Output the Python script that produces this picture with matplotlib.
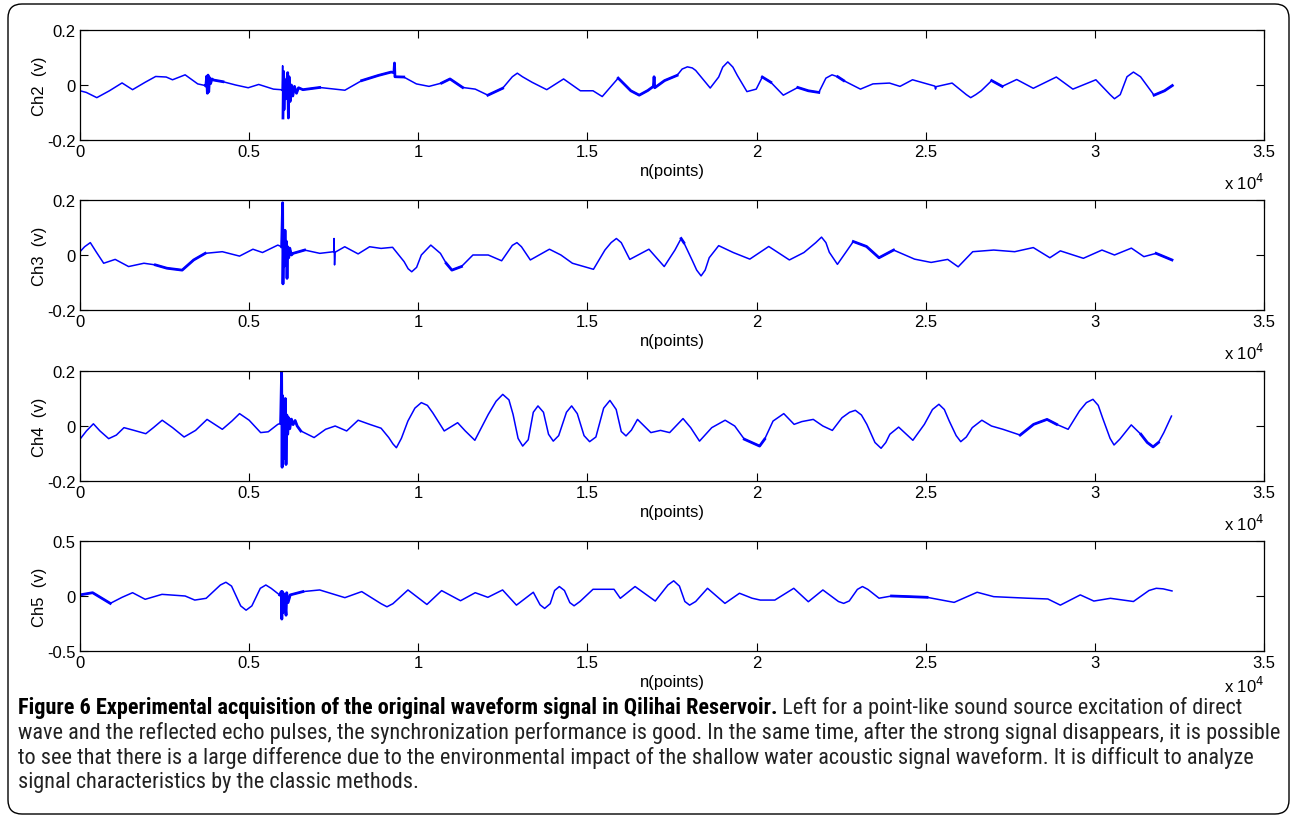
import matplotlib
matplotlib.use("Agg")
import matplotlib.pyplot as plt
from matplotlib import font_manager
from matplotlib.patches import FancyBboxPatch
from matplotlib.transforms import IdentityTransform

plt.rcParams['font.family'] = ['Liberation Sans', 'DejaVu Sans']

# ---- waveform knots (n in points, value in volts) ----
ch2_n = [0, 186, 497, 870, 1243, 1554, 1927, 2237, 2548, 2735, 3108, 3480, 3704,
         3720, 3745, 3765, 3785, 3805, 3830, 3860, 3900, 3950, 4226, 4600, 4972,
         5283, 5718, 5940, 5975, 5990, 6000, 6015, 6030, 6050, 6080, 6110, 6140,
         6160, 6180, 6210, 6250, 6290, 6340, 6400, 6460, 6588, 7085, 7830, 8328,
         8825, 9198, 9280, 9297, 9310, 9570, 9944, 10317, 10690, 10938, 11311,
         11684, 12057, 12492, 12927, 13362, 13797, 14295, 14792, 15165, 15438,
         15910, 16283, 16531, 16785, 16950, 16970, 16990, 17280, 17650, 17955,
         18200, 18630, 18880, 19150, 19430, 19715, 19990, 20170, 20420, 20790,
         21220, 21530, 21840, 22230, 22575, 23070, 23440, 23930, 24240, 24610,
         25040, 25270, 25290, 25310, 25780, 26330, 26640, 26950, 27260, 27690,
         28180, 28860, 29350, 30030, 30580, 31140, 31750, 32060, 32290]
ch2_v = [-0.021, -0.027, -0.046, -0.021, 0.0075, -0.017, 0.010, 0.031, 0.029, 0.019,
         0.037, 0.004, -0.002, -0.004, 0.032, -0.030, 0.036, -0.025, 0.027, 0.005,
         0.022, 0.018, 0.012, 0.000, -0.010, 0.002, -0.015, -0.017, -0.020, 0.070,
         -0.120, 0.050, -0.090, 0.020, -0.050, 0.010, 0.045, -0.120, 0.030, -0.060,
         0.000, -0.040, -0.005, -0.030, -0.010, -0.017, -0.009, -0.019, 0.016,
         0.035, 0.047, 0.045, 0.080, 0.030, 0.029, 0.004, -0.005, 0.007, 0.022,
         -0.009, -0.015, -0.037, -0.012, 0.043, 0.010, -0.017, 0.022, -0.021,
         -0.021, -0.042, 0.025, -0.021, -0.037, -0.020, -0.005, 0.030, -0.010,
         0.016, 0.035, 0.066, 0.053, -0.011, 0.029, 0.084, 0.035, -0.024, -0.015,
         0.029, 0.010, -0.037, -0.009, -0.021, -0.027, 0.037, 0.016, -0.015,
         0.004, 0.007, -0.005, 0.019, 0.004, -0.004, -0.015, -0.006, 0.007,
         -0.046, -0.021, 0.016, -0.005, 0.020, -0.012, 0.029, -0.015, 0.019,
         -0.050, 0.047, -0.037, -0.021, -0.002]
# extra shoulder points around the rounder swings
ch2_extra_n = [12780, 13080, 19000, 19300, 22050, 22400, 26200, 26480, 30450, 30750,
               30950, 31350, 17800, 18100]
ch2_extra_v = [0.030, 0.030, 0.065, 0.065, 0.025, 0.030, -0.035, -0.035, -0.035,
               -0.035, 0.030, 0.030, 0.058, 0.062]

ch3_n = [0, 136, 305, 475, 700, 1040, 1436, 1890, 2228, 2567, 3020, 3360, 3700,
         4207, 4716, 5112, 5395, 5847, 5960, 5990, 6000, 6020, 6040, 6060, 6080,
         6100, 6120, 6140, 6170, 6200, 6250, 6300, 6640, 7090, 7500, 7510, 7525,
         7540, 7826, 8222, 8562, 8900, 9240, 9580, 9806, 10090, 10370, 10654,
         10824, 10993, 11276, 11615, 12068, 12464, 12916, 13312, 13877, 14216,
         14556, 15178, 15517, 15856, 16252, 16818, 17270, 17587, 17770, 17850,
         18100, 18360, 18600, 18880, 19310, 19800, 20360, 20970, 21400, 21920,
         22150, 22390, 22860, 23250, 23620, 24050, 24670, 25160, 25650, 25960,
         26390, 27010, 27630, 28180, 28670, 28980, 29660, 30210, 30580, 31080,
         31450, 31810, 32280]
ch3_v = [0.012, 0.030, 0.045, 0.012, -0.030, -0.016, -0.042, -0.030, -0.036,
         -0.048, -0.055, -0.018, 0.006, 0.012, -0.004, 0.021, 0.009, 0.036, 0.030,
         0.190, -0.105, 0.070, -0.040, 0.090, -0.020, 0.050, -0.085, 0.030,
         -0.010, 0.025, 0.000, 0.006, 0.018, 0.006, 0.012, 0.060, -0.036, 0.010,
         0.030, 0.004, 0.030, 0.024, 0.028, -0.024, -0.061, 0.000, 0.036, 0.006,
         -0.030, -0.055, -0.042, 0.000, 0.000, -0.021, 0.045, -0.018, 0.021,
         0.000, -0.030, -0.052, 0.018, 0.060, -0.016, 0.021, -0.042, 0.018,
         0.060, 0.045, -0.020, -0.076, -0.010, 0.034, 0.009, -0.015, 0.031,
         -0.018, 0.009, 0.065, 0.010, -0.034, 0.049, 0.031, -0.010, 0.018,
         -0.015, -0.027, -0.016, -0.043, 0.012, 0.018, 0.012, 0.027, -0.010,
         0.015, -0.012, 0.018, 0.000, 0.025, -0.006, 0.006, -0.018]
ch3_extra_n = [9700, 9950, 15700, 16000, 18230, 18480, 21750, 22050, 12780, 13050]
ch3_extra_v = [-0.050, -0.045, 0.045, 0.045, -0.055, -0.055, 0.045, 0.045, 0.035, 0.030]

ch4_n = [0, 190, 396, 590, 848, 1075, 1300, 1600, 1945, 2170, 2430, 2737, 3077,
         3416, 3756, 3980, 4207, 4490, 4716, 5000, 5340, 5565, 5847, 5930, 5960,
         5975, 5990, 6005, 6025, 6045, 6070, 6090, 6115, 6140, 6170, 6200, 6250,
         6300, 6360, 6420, 6526, 6920, 7260, 7543, 7883, 8222, 8562, 8900, 9127,
         9353, 9693, 10090, 10428, 10767, 11163, 11389, 11672, 12068, 12497,
         12802, 13086, 13538, 13990, 14533, 15065, 15665, 16140, 16480, 16875,
         17160, 17430, 17826, 18052, 18313, 18675, 19071, 19354, 19638, 20090,
         20238, 20487, 20804, 21110, 21336, 21676, 21960, 22240, 22525, 22920,
         23260, 23680, 23940, 24200, 24620, 24960, 25390, 25696, 26036, 26376,
         26660, 26943, 27282, 27792, 28190, 28586, 28870, 29210, 29547, 29944,
         30227, 30567, 30737, 31076, 31360, 31722, 32039, 32265]
ch4_v = [-0.048, -0.018, 0.008, -0.018, -0.046, -0.033, -0.006, -0.016, -0.028,
         -0.006, 0.021, -0.006, -0.040, -0.016, 0.024, 0.006, -0.012, 0.018,
         0.045, 0.021, -0.024, -0.021, 0.006, 0.010, 0.200, -0.150, 0.110,
         -0.120, 0.090, -0.060, 0.100, -0.140, 0.040, -0.030, 0.030, -0.010,
         0.025, 0.005, 0.020, 0.000, -0.018, -0.042, -0.012, 0.000, -0.018,
         0.021, 0.006, -0.008, -0.042, -0.079, 0.018, 0.085, 0.048, -0.018,
         0.012, -0.018, -0.052, 0.042, 0.115, 0.042, -0.073, 0.073, -0.055,
         0.073, -0.057, 0.093, -0.036, 0.024, -0.024, -0.016, -0.024, 0.027,
         -0.006, -0.055, -0.006, 0.021, 0.000, -0.048, -0.073, -0.048, 0.018,
         0.045, 0.006, 0.016, 0.024, 0.000, -0.016, 0.030, 0.057, 0.006, -0.081,
         -0.030, -0.004, -0.052, 0.006, 0.079, 0.018, -0.057, -0.006, 0.021,
         0.000, -0.012, -0.033, 0.006, 0.024, 0.006, -0.012, 0.055, 0.097,
         0.030, -0.069, -0.048, 0.004, -0.030, -0.076, -0.024, 0.036]
ch4_extra_n = [9250, 9500, 9900, 10270, 12300, 12680, 12950, 13250, 13400, 13700,
               13850, 14150, 14380, 14700, 14900, 15250, 15480, 15850, 16000, 16300,
               22750, 23100, 23500, 23820, 25200, 25550, 25900, 26200, 29750, 30100,
               30450, 31550, 31880]
ch4_extra_v = [-0.065, -0.045, 0.065, 0.075, 0.090, 0.095, -0.045, -0.050, 0.050,
               0.050, -0.030, -0.035, 0.050, 0.045, -0.035, -0.040, 0.065, 0.060,
               -0.020, -0.015, 0.050, 0.040, -0.060, -0.060, 0.060, 0.060, -0.035,
               -0.040, 0.085, 0.075, -0.045, -0.060, -0.060]

ch5_n = [0, 373, 895, 1243, 1554, 1927, 2424, 3108, 3393, 3729, 4313, 4910, 5494,
         5904, 5950, 5966, 5980, 6000, 6030, 6091, 6110, 6150, 6215, 6588, 7085,
         7830, 8328, 9074, 9695, 10255, 10690, 11249, 11684, 12057, 12492, 12902,
         13400, 13735, 14170, 14605, 15165, 15786, 15972, 16408, 17005, 17550,
         18020, 18550, 19065, 19495, 19865, 20110, 20540, 21100, 21530, 21960,
         22575, 23130, 23620, 23990, 24545, 25040, 25840, 26520, 27010, 28000,
         28610, 28980, 29570, 29970, 30460, 31140, 31815, 32280]
ch5_v = [0.010, 0.030, -0.067, -0.012, 0.030, -0.030, 0.015, 0.000, -0.037, -0.021,
         0.125, -0.129, 0.100, 0.009, 0.040, -0.210, 0.040, -0.150, 0.020, -0.175,
         0.030, -0.060, 0.010, 0.040, 0.055, -0.015, 0.040, -0.098, 0.055, -0.077,
         0.049, -0.043, 0.030, -0.012, 0.055, -0.083, 0.034, -0.113, 0.086,
         -0.089, 0.061, 0.061, -0.021, 0.086, -0.046, 0.138, -0.083, 0.070,
         -0.067, 0.025, -0.020, -0.037, -0.037, 0.070, -0.052, 0.055, -0.067,
         0.086, -0.020, 0.000, -0.006, -0.012, -0.058, 0.034, -0.006, -0.020,
         -0.027, -0.083, 0.010, -0.046, -0.021, -0.050, 0.070, 0.046]
ch5_extra_n = [4150, 4480, 4750, 5080, 5330, 5650, 8900, 9250, 13600, 13900, 14030,
               14320, 14480, 14780, 17380, 17720, 17880, 18200, 22420, 22740,
               22980, 23290, 31600, 32020]
ch5_extra_v = [0.100, 0.090, -0.090, -0.090, 0.070, 0.070, -0.070, -0.070, -0.080,
               -0.070, 0.050, 0.050, -0.060, -0.050, 0.100, 0.090, -0.050, -0.050,
               -0.050, -0.045, 0.060, 0.060, 0.050, 0.065]

# stretches where the trace looks noisy (drawn thicker)
ch2_noisy = [(3700, 4300), (6000, 7300), (8300, 9800), (10500, 11400), (11700, 12500),
             (15700, 17700), (20000, 20500), (20900, 21900), (22300, 22900),
             (26700, 27300), (28700, 29100), (31700, 32300)]
ch3_noisy = [(2200, 3900), (5900, 7000), (10800, 11400), (17600, 18000),
             (22500, 24300), (24900, 25600), (31600, 32300)]
ch4_noisy = [(5900, 6600), (27300, 29100), (19500, 20300), (30700, 31000), (31300, 31900)]
ch5_noisy = [(0, 1200), (5900, 6800), (23700, 25200)]

channels = ['Ch2', 'Ch3', 'Ch4', 'Ch5']
ylims = [0.2, 0.2, 0.2, 0.5]
xtick_vals = [0, 5000, 10000, 15000, 20000, 25000, 30000, 35000]
xtick_labels = ['0', '0.5', '1', '1.5', '2', '2.5', '3', '3.5']

caption_bold = "Figure 6 Experimental acquisition of the original waveform signal in Qilihai Reservoir."
caption_lines = [
    " Left for a point-like sound source excitation of direct",
    "wave and the reflected echo pulses, the synchronization performance is good. In the same time, after the strong signal disappears, it is possible",
    "to see that there is a large difference due to the environmental impact of the shallow water acoustic signal waveform. It is difficult to analyze",
    "signal characteristics by the classic methods.",
]


def merged(ns, vs, en, ev):
    pts = sorted(zip(list(ns) + list(en), list(vs) + list(ev)))
    return [p[0] for p in pts], [p[1] for p in pts]


W, H = 1292, 820
fig = plt.figure(figsize=(W / 100, H / 100), dpi=100)

data = [(merged(ch2_n, ch2_v, ch2_extra_n, ch2_extra_v), ch2_noisy),
        (merged(ch3_n, ch3_v, ch3_extra_n, ch3_extra_v), ch3_noisy),
        (merged(ch4_n, ch4_v, ch4_extra_n, ch4_extra_v), ch4_noisy),
        (merged(ch5_n, ch5_v, ch5_extra_n, ch5_extra_v), ch5_noisy)]
tops = [31, 201, 372, 542]
exp_y = [-0.38, -0.38, -0.38, -0.31]
left_px, right_px, h_px = 80, 1264, 110

for i, ((xs, ys), noisy) in enumerate(data):
    top = tops[i]
    ax = fig.add_axes([left_px / W, 1 - (top + h_px) / H, (right_px - left_px) / W, h_px / H])
    ax.plot(xs, ys, color='#0000ff', lw=1.1, solid_joinstyle='round')
    for a, b in noisy:
        seg = [(x, y) for x, y in zip(xs, ys) if a <= x <= b]
        if len(seg) > 1:
            ax.plot([p[0] for p in seg], [p[1] for p in seg], color='#0000ff', lw=2.0)
    lim = ylims[i]
    ax.set_xlim(0, 35000)
    ax.set_ylim(-lim, lim)
    ax.set_xticks(xtick_vals)
    ax.set_xticklabels(xtick_labels)
    ax.set_yticks([-lim, 0, lim])
    ax.set_yticklabels(['-%g' % lim, '0', '%g' % lim])
    ax.tick_params(direction='in', top=True, right=True, length=6, width=0.8,
                   labelsize=12, pad=3)
    for s in ax.spines.values():
        s.set_linewidth(0.9)
    ax.set_xlabel('n(points)', fontsize=12, labelpad=3)
    ax.set_ylabel(channels[i] + '  (v)', fontsize=12, labelpad=0)
    ax.text(1.0, exp_y[i], r'x 10$^4$', transform=ax.transAxes, ha='right',
            va='center', fontsize=12)

# outer rounded frame
frame = FancyBboxPatch((8, 5), 1281, 810, boxstyle='round,pad=0,rounding_size=14',
                       transform=IdentityTransform(), fill=False, ec='black', lw=1.0)
fig.patches.append(frame)

# caption: pick a narrow family if one is installed, then fit line 2 to the box
installed = {f.name for f in font_manager.fontManager.ttflist}
cap_font = 'Liberation Sans'
for cand in ['Roboto Condensed', 'Liberation Sans Narrow', 'Open Sans Condensed', 'Roboto']:
    if cand in installed:
        cap_font = cand
        break
line_y = [708, 733, 758, 783]
renderer = fig.canvas.get_renderer()
probe = fig.text(0, 0, caption_lines[1], fontsize=13, family=cap_font)
w = probe.get_window_extent(renderer=renderer).width
probe.remove()
cap_size = 13 * 1255 / w

tb = fig.text(18 / W, 1 - line_y[0] / H, caption_bold, fontsize=cap_size,
              fontweight='bold', family=cap_font, va='center', ha='left')
ext = tb.get_window_extent(renderer=renderer)
fig.text(ext.x1 / W, 1 - line_y[0] / H, caption_lines[0], fontsize=cap_size,
         family=cap_font, va='center', ha='left', color='#222222')
for k in range(1, 4):
    fig.text(18 / W, 1 - line_y[k] / H, caption_lines[k], fontsize=cap_size,
             family=cap_font, va='center', ha='left', color='#222222')

fig.savefig('out.png', dpi=100)
